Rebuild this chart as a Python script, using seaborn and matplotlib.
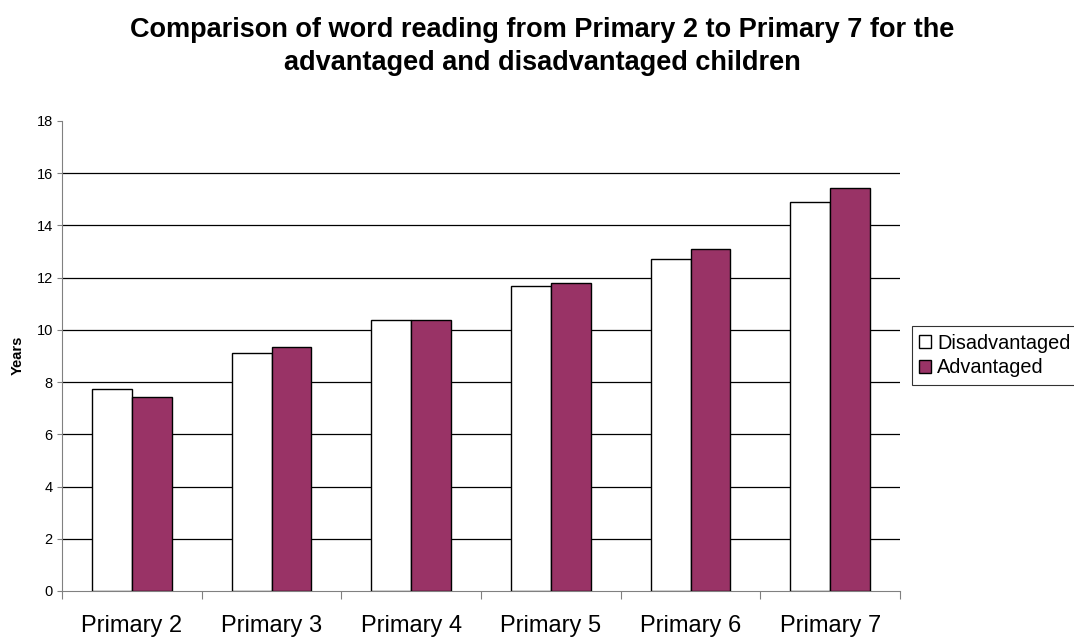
import pandas as pd
import numpy as np
import matplotlib
matplotlib.use("Agg")
import matplotlib.pyplot as plt
import seaborn as sns

# chart data
stages = ["Primary 2", "Primary 3", "Primary 4", "Primary 5", "Primary 6", "Primary 7"]
disadvantaged = [7.73, 9.11, 10.38, 11.70, 12.71, 14.91]
advantaged = [7.44, 9.34, 10.38, 11.79, 13.08, 15.42]
groups = ["Disadvantaged", "Advantaged"]
y_ticks = [0, 2, 4, 6, 8, 10, 12, 14, 16, 18]

df = pd.DataFrame({
    "stage": stages * 2,
    "years": disadvantaged + advantaged,
    "group": [groups[0]] * len(stages) + [groups[1]] * len(stages),
})

sns.set_style("white")
plt.rcParams["font.family"] = ["Liberation Sans", "DejaVu Sans"]
plt.rcParams["text.color"] = "black"
plt.rcParams["xtick.color"] = "black"
plt.rcParams["ytick.color"] = "black"
plt.rcParams["axes.labelcolor"] = "black"

fig = plt.figure(figsize=(10.74, 6.37), dpi=100)
ax = fig.add_axes([62 / 1074, 1 - 591 / 637, (900 - 62) / 1074, (591 - 121) / 637])

sns.barplot(data=df, x="stage", y="years", hue="group", order=stages, hue_order=groups,
            palette=["#ffffff", "#993366"], edgecolor="black", linewidth=1.0,
            width=0.57, saturation=1, ax=ax, zorder=3)

ax.set_xlim(-0.5, 5.5)
ax.set_ylim(0, 18)
ax.set_yticks(y_ticks)
ax.tick_params(axis="y", labelsize=10.5, length=3.6, width=0.8, color="#808080", pad=3, direction="out", left=True)
for y in y_ticks[1:-1]:
    ax.axhline(y, color="black", linewidth=0.9, zorder=1)

# category boundary ticks on the x-axis
ax.set_xticks(np.arange(-0.5, 6.0, 1.0), minor=True)
ax.tick_params(axis="x", which="minor", length=6, width=0.8, color="#808080", direction="out", bottom=True)
ax.tick_params(axis="x", which="major", length=0, labelsize=17, pad=17.5)

for side in ["top", "right"]:
    ax.spines[side].set_visible(False)
ax.spines["left"].set_color("#808080")
ax.spines["bottom"].set_color("#808080")

ax.set_xlabel("")
ax.set_ylabel("Years", fontsize=10.5, fontweight="bold")
ax.yaxis.set_label_coords(-0.045, 0.502)

# two-line title, one text per line
fig.text(0.5047, 1 - 37 / 637, "Comparison of word reading from Primary 2 to Primary 7 for the",
         ha="center", va="baseline", fontsize=19.5, fontweight="bold")
fig.text(0.5047, 1 - 70 / 637, "advantaged and disadvantaged children",
         ha="center", va="baseline", fontsize=19.5, fontweight="bold")

leg = ax.legend(loc="center left", bbox_to_anchor=(912 / 1074, 1 - 355.5 / 637),
                bbox_transform=fig.transFigure, fontsize=14.3, frameon=True,
                fancybox=False, handlelength=0.6, handleheight=0.6, handletextpad=0.32,
                borderpad=0.36, labelspacing=0.3, borderaxespad=0)
leg.get_frame().set_edgecolor("black")
leg.get_frame().set_linewidth(0.8)

fig.savefig("out.png", dpi=100)
